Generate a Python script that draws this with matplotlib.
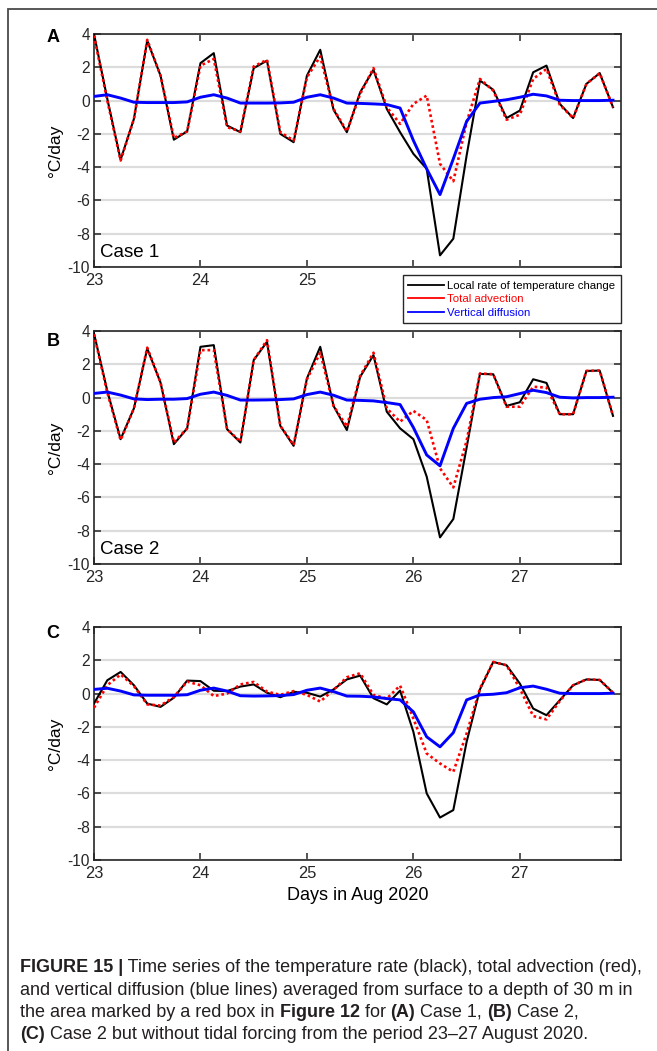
import numpy as np
import matplotlib
matplotlib.use("Agg")
from matplotlib import pyplot as plt
from matplotlib.patches import Rectangle
from matplotlib.lines import Line2D

plt.rcParams['font.family'] = ['Liberation Sans', 'DejaVu Sans']
plt.rcParams['axes.unicode_minus'] = False

# 3-hourly output, 23-27 Aug 2020
hours = np.arange(0, 120, 3)
days = 23 + hours / 24.0

# Case 1
a_rate = [4.0, 0.1, -3.55, -1.1, 3.6, 1.5, -2.35, -1.85,
          2.25, 2.85, -1.5, -1.9, 1.95, 2.4, -2.0, -2.5,
          1.5, 3.05, -0.55, -1.9, 0.5, 1.85, -0.5, -1.9,
          -3.2, -4.1, -9.3, -8.3, -3.3, 1.2, 0.65, -1.05,
          -0.6, 1.7, 2.1, -0.2, -1.05, 1.0, 1.65, -0.4]
a_adv = [3.9, 0.0, -3.6, -1.1, 3.65, 1.5, -2.25, -1.85,
         2.1, 2.5, -1.6, -1.85, 2.05, 2.45, -1.9, -2.4,
         1.4, 2.65, -0.5, -1.85, 0.4, 1.95, -0.4, -1.4,
         -0.2, 0.3, -3.8, -4.85, -1.3, 1.3, 0.6, -1.15,
         -0.85, 1.3, 1.9, -0.25, -1.05, 1.0, 1.65, -0.4]
a_diff = [0.25, 0.35, 0.15, -0.1, -0.12, -0.12, -0.12, -0.08,
          0.2, 0.35, 0.15, -0.15, -0.15, -0.15, -0.14, -0.1,
          0.2, 0.35, 0.15, -0.15, -0.17, -0.2, -0.24, -0.45,
          -2.4, -4.1, -5.65, -3.5, -1.25, -0.15, -0.05, 0.05,
          0.2, 0.38, 0.28, 0.02, 0.0, 0.0, 0.0, 0.02]

# Case 2
b_rate = [3.85, 0.4, -2.5, -0.65, 2.95, 0.9, -2.8, -1.85,
          3.05, 3.15, -1.9, -2.7, 2.25, 3.35, -1.7, -2.9,
          1.15, 3.05, -0.5, -1.95, 1.25, 2.55, -0.85, -1.85,
          -2.5, -4.75, -8.4, -7.3, -3.0, 1.42, 1.4, -0.5,
          -0.28, 1.1, 0.88, -1.0, -1.0, 1.6, 1.62, -1.1]
b_adv = [3.8, 0.3, -2.55, -0.65, 3.0, 0.9, -2.7, -1.85,
         2.85, 2.85, -1.9, -2.65, 2.25, 3.45, -1.7, -2.85,
         1.1, 2.7, -0.5, -1.75, 1.3, 2.7, -0.65, -1.45,
         -0.8, -1.35, -4.25, -5.4, -2.6, 1.45, 1.4, -0.55,
         -0.55, 0.65, 0.6, -1.0, -1.0, 1.6, 1.62, -1.1]
b_diff = [0.25, 0.33, 0.15, -0.08, -0.12, -0.1, -0.1, -0.06,
          0.2, 0.33, 0.13, -0.15, -0.15, -0.14, -0.12, -0.08,
          0.18, 0.33, 0.14, -0.15, -0.17, -0.2, -0.3, -0.42,
          -1.8, -3.45, -4.1, -1.85, -0.35, -0.1, 0.0, 0.05,
          0.24, 0.44, 0.3, 0.02, -0.02, 0.0, 0.0, 0.02]

# Case 2 without tides
c_rate = [-0.6, 0.8, 1.3, 0.5, -0.6, -0.8, -0.25, 0.78,
          0.75, 0.17, 0.15, 0.42, 0.55, 0.05, -0.22, 0.1,
          0.05, -0.18, 0.25, 0.85, 1.08, -0.28, -0.65, 0.18,
          -2.3, -6.0, -7.45, -7.0, -2.9, 0.25, 1.9, 1.7,
          0.6, -0.9, -1.3, -0.4, 0.5, 0.85, 0.82, 0.05]
c_adv = [-0.85, 0.5, 1.15, 0.45, -0.65, -0.72, -0.2, 0.72,
         0.5, -0.15, 0.0, 0.55, 0.7, 0.12, -0.08, 0.15,
         -0.08, -0.48, 0.22, 0.98, 1.22, -0.08, -0.3, 0.48,
         -1.5, -3.6, -4.2, -4.7, -2.4, 0.3, 1.9, 1.7,
         0.3, -1.35, -1.55, -0.45, 0.5, 0.85, 0.82, 0.05]
c_diff = [0.25, 0.32, 0.15, -0.08, -0.1, -0.1, -0.1, -0.07,
          0.2, 0.33, 0.15, -0.13, -0.15, -0.14, -0.12, -0.06,
          0.2, 0.33, 0.12, -0.15, -0.16, -0.2, -0.3, -0.38,
          -1.1, -2.6, -3.2, -2.35, -0.38, -0.08, -0.04, 0.05,
          0.35, 0.45, 0.26, 0.02, 0.0, 0.0, 0.0, 0.02]

panel_letters = ['A', 'B', 'C']
case_labels = ['Case 1', 'Case 2', None]
legend_labels = ['Local rate of temperature change', 'Total advection', 'Vertical diffusion']
x_ticks = [23, 24, 25, 26, 27]
y_ticks = [-10, -8, -6, -4, -2, 0, 2, 4]

W, H = 657, 1051
AX_LEFT, AX_RIGHT = 94, 621
AX_TOPS = [34, 331, 627]
LETTER_OFFS = [4, 10, 6]
AX_H = 233
SPINE = '#262626'


def px_rect(left, top, width, height):
    return [left / W, 1 - (top + height) / H, width / W, height / H]


def draw_panel(fig, top, rate, adv, diff, letter, letter_off, case):
    ax = fig.add_axes(px_rect(AX_LEFT, top, AX_RIGHT - AX_LEFT, AX_H))
    ax.plot(days, rate, color='black', lw=1.5, zorder=3)
    ax.plot(days, adv, color='red', lw=1.9, ls=(0, (1, 1.1)), zorder=4)
    ax.plot(days, diff, color='#0000ff', lw=2.1, zorder=5)

    ax.set_xlim(23, 27.95)
    ax.set_ylim(-10, 4)
    ax.set_xticks(x_ticks)
    ax.set_yticks(y_ticks)
    ax.yaxis.grid(True, color='#dcdcdc', lw=1.6)
    ax.set_axisbelow(True)
    ax.tick_params(direction='in', top=True, right=True, length=5, width=1.1,
                   color=SPINE, labelcolor='#262626')
    ax.tick_params(axis='y', labelsize=11.2, pad=3)
    ax.tick_params(axis='x', labelsize=11.8, pad=4)
    for s in ax.spines.values():
        s.set_color(SPINE)
        s.set_linewidth(1.2)
    ax.set_ylabel('°C/day', fontsize=12.5, labelpad=3)

    fig.text(53 / W, 1 - (top + letter_off) / H, letter, fontsize=13, fontweight='bold',
             ha='center', va='center')
    if case:
        ax.text(0.012, 0.025, case, transform=ax.transAxes, fontsize=13.5,
                ha='left', va='bottom')
    return ax


def text_width(fig, renderer, s, **kw):
    t = fig.text(0, 0, 'x' + s + 'x', **kw)
    w = t.get_window_extent(renderer).width
    t.remove()
    t = fig.text(0, 0, 'xx', **kw)
    w -= t.get_window_extent(renderer).width
    t.remove()
    return w


def draw_caption(fig, lines, x0, y0, dy, size):
    renderer = fig.canvas.get_renderer()
    fam = ['Liberation Sans Narrow', 'Liberation Sans', 'DejaVu Sans']
    for i, parts in enumerate(lines):
        x = x0
        y = y0 + i * dy
        for s, bold in parts:
            kw = dict(fontsize=size, family=fam,
                      fontweight='bold' if bold else 'normal', color='#231f20')
            fig.text(x / W, 1 - y / H, s, va='center', ha='left', **kw)
            x += text_width(fig, renderer, s, **kw)


fig = plt.figure(figsize=(W / 100, H / 100), dpi=100)

# outer frame of the figure panel
fig.add_artist(Rectangle((8 / W, -0.05), 1.2, 1 - 9 / H + 0.05, transform=fig.transFigure,
                         fill=False, ec='#4a4a4a', lw=1.3))

series = [(a_rate, a_adv, a_diff), (b_rate, b_adv, b_diff), (c_rate, c_adv, c_diff)]
axes = []
for top, (r, a, d), letter, off, case in zip(AX_TOPS, series, panel_letters, LETTER_OFFS, case_labels):
    axes.append(draw_panel(fig, top, r, a, d, letter, off, case))

# in panel A the legend box hides the last two day labels
axes[0].set_xticklabels(['23', '24', '25', '', ''])
axes[2].set_xlabel('Days in Aug 2020', fontsize=13, labelpad=5)

handles = [Line2D([], [], color='black', lw=1.3),
           Line2D([], [], color='red', lw=1.3),
           Line2D([], [], color='#0000ff', lw=1.3)]
leg = fig.legend(handles, legend_labels, loc='upper right',
                 bbox_to_anchor=(AX_RIGHT / W, 1 - 275 / H), fontsize=8.2,
                 frameon=True, fancybox=False, framealpha=1, edgecolor='#262626',
                 borderpad=0.5, labelspacing=0.3, handlelength=3.1, handletextpad=0.3,
                 borderaxespad=0)
leg.get_frame().set_linewidth(1.0)
for txt, h in zip(leg.get_texts(), handles):
    txt.set_color(h.get_color())

caption = [
    [('FIGURE 15 |', True), (' Time series of the temperature rate (black), total advection (red),', False)],
    [('and vertical diffusion (blue lines) averaged from surface to a depth of 30 m in', False)],
    [('the area marked by a red box in ', False), ('Figure 12', True), (' for ', False),
     ('(A)', True), (' Case 1, ', False), ('(B)', True), (' Case 2,', False)],
    [('(C)', True), (' Case 2 but without tidal forcing from the period 23\u201327 August 2020.', False)],
]
draw_caption(fig, caption, 20, 968, 22.2, 13.0)

fig.savefig('out.png', dpi=100)
